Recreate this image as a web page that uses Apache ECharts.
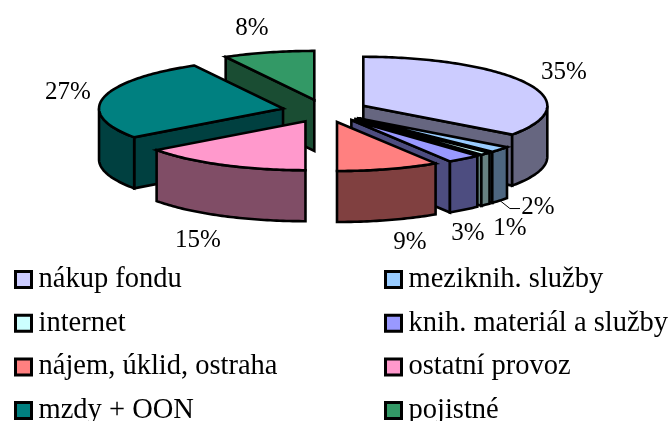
<!DOCTYPE html>
<html>
<head>
<meta charset="utf-8">
<style>
	html, body { margin: 0; padding: 0; background: #fff; }
	#main { width: 670px; height: 421px; }
</style>
<script src="https://cdn.jsdelivr.net/npm/echarts@6/dist/echarts.min.js"></script>
</head>
<body>
<div id="main"></div>
<script>
	var names = ['nákup fondu', 'meziknih. služby', 'internet', 'knih. materiál a služby', 'nájem, úklid, ostraha', 'ostatní provoz', 'mzdy + OON', 'pojistné'];
	var values = [35, 2, 1, 3, 9, 15, 27, 8];
	var colors = ['#ccccff', '#99ccff', '#ccffff', '#9999ff', '#ff8080', '#ff99cc', '#008080', '#339966'];

	// 饼图的投影参数
	var cx = 325, cy = 111, rx = 184, ry = 49, depth = 51, explode = 43;
	var fontFamily = '"Liberation Serif", serif';
	// 百分比标签的位置
	var labelPos = [[564, 72], [538, 207], [510, 228], [468, 233], [410, 242], [198, 240], [68, 92], [252, 28]];

	var total = values.reduce(function(a, b) { return a + b; }, 0);
	var starts = [];
	values.reduce(function(sum, v, i) {
		starts[i] = sum / total * 360;
		return sum + v;
	}, 0);

	function offset(i) {
		var mid = (starts[i] + values[i] / total * 180) * Math.PI / 180;
		return [cx + explode * Math.sin(mid), cy - explode * Math.cos(mid) * ry / rx];
	}

	// 从后往前的绘制顺序
	var rank = values.map(function(v, i) { return i; }).sort(function(a, b) {
		return offset(a)[1] - offset(b)[1];
	});

	function rim(o, deg) {
		var a = deg * Math.PI / 180;
		return [o[0] + rx * Math.sin(a), o[1] - ry * Math.cos(a)];
	}

	function arc(o, from, to) {
		var pts = [];
		for (var d = from; d < to; d += 1) {
			pts.push(rim(o, d));
		}
		pts.push(rim(o, to));
		return pts;
	}

	function down(p) {
		return [p[0], p[1] + depth];
	}

	// 侧面颜色为顶面的一半亮度
	function darken(c) {
		var rgb = echarts.color.parse(c);
		return 'rgb(' + Math.round(rgb[0] / 2) + ',' + Math.round(rgb[1] / 2) + ',' + Math.round(rgb[2] / 2) + ')';
	}

	function renderSlice(params, api) {
		var i = params.seriesIndex;
		var a0 = starts[i];
		var a1 = a0 + api.value(0) / total * 360;
		var o = offset(i);
		var top = colors[i];
		var side = darken(top);
		var z = rank.indexOf(i) * 10;
		var children = [];

		function poly(points, fill) {
			children.push({
				type: 'polygon',
				z2: z + children.length,
				shape: { points: points },
				style: { fill: fill, stroke: '#000', lineWidth: 2.6, lineJoin: 'miter' }
			});
		}

		// 切面，只画朝向观察者的一面
		[[a0, -90], [a1, 90]].forEach(function(w) {
			if (-Math.cos((w[0] + w[1]) * Math.PI / 180) > 0.001) {
				var p = rim(o, w[0]);
				poly([o, p, down(p), down(o)], side);
			}
		});

		// 外侧弧面
		var f0 = Math.max(a0, 90), f1 = Math.min(a1, 270);
		if (f1 > f0) {
			var edge = arc(o, f0, f1);
			poly(edge.concat(edge.map(down).reverse()), side);
		}

		// 顶面
		poly([o].concat(arc(o, a0, a1)), top);

		// 2% 的引导线
		if (values[i] === 2) {
			var from = down(rim(o, (a0 + a1) / 2));
			children.push({
				type: 'polyline',
				z2: 190,
				shape: { points: [from, [from[0] + 10, from[1] + 8], [labelPos[i][0] - 18, from[1] + 8]] },
				style: { fill: null, stroke: '#000', lineWidth: 1 }
			});
		}

		// 百分比标签
		children.push({
			type: 'text',
			z2: 200,
			style: {
				x: labelPos[i][0],
				y: labelPos[i][1],
				text: api.value(0) + '%',
				fill: '#000',
				font: '25px ' + fontFamily,
				align: 'center',
				verticalAlign: 'middle'
			}
		});

		return { type: 'group', children: children };
	}

	var myChart = echarts.init(document.getElementById('main'));

	function legendColumn(left, items) {
		return {
			orient: 'vertical',
			left: left,
			top: 260,
			height: 161,
			itemWidth: 16,
			itemHeight: 16,
			itemGap: 14.7,
			itemStyle: { borderColor: '#000', borderWidth: 3 },
			icon: 'rect',
			selectedMode: false,
			data: items,
			textStyle: { fontFamily: fontFamily, fontSize: 28.5, color: '#000', lineHeight: 28, padding: [0, 0, 0, 2] }
		};
	}

	var option = {
		animation: false,
		legend: [
			legendColumn(9, [names[0], names[2], names[4], names[6]]),
			legendColumn(379, [names[1], names[3], names[5], names[7]])
		],
		series: values.map(function(v, i) {
			return {
				type: 'custom',
				name: names[i],
				coordinateSystem: 'none',
				silent: true,
				itemStyle: { color: colors[i] },
				renderItem: renderSlice,
				data: [[v]]
			};
		})
	};

	myChart.setOption(option, true);
</script>
</body>
</html>
